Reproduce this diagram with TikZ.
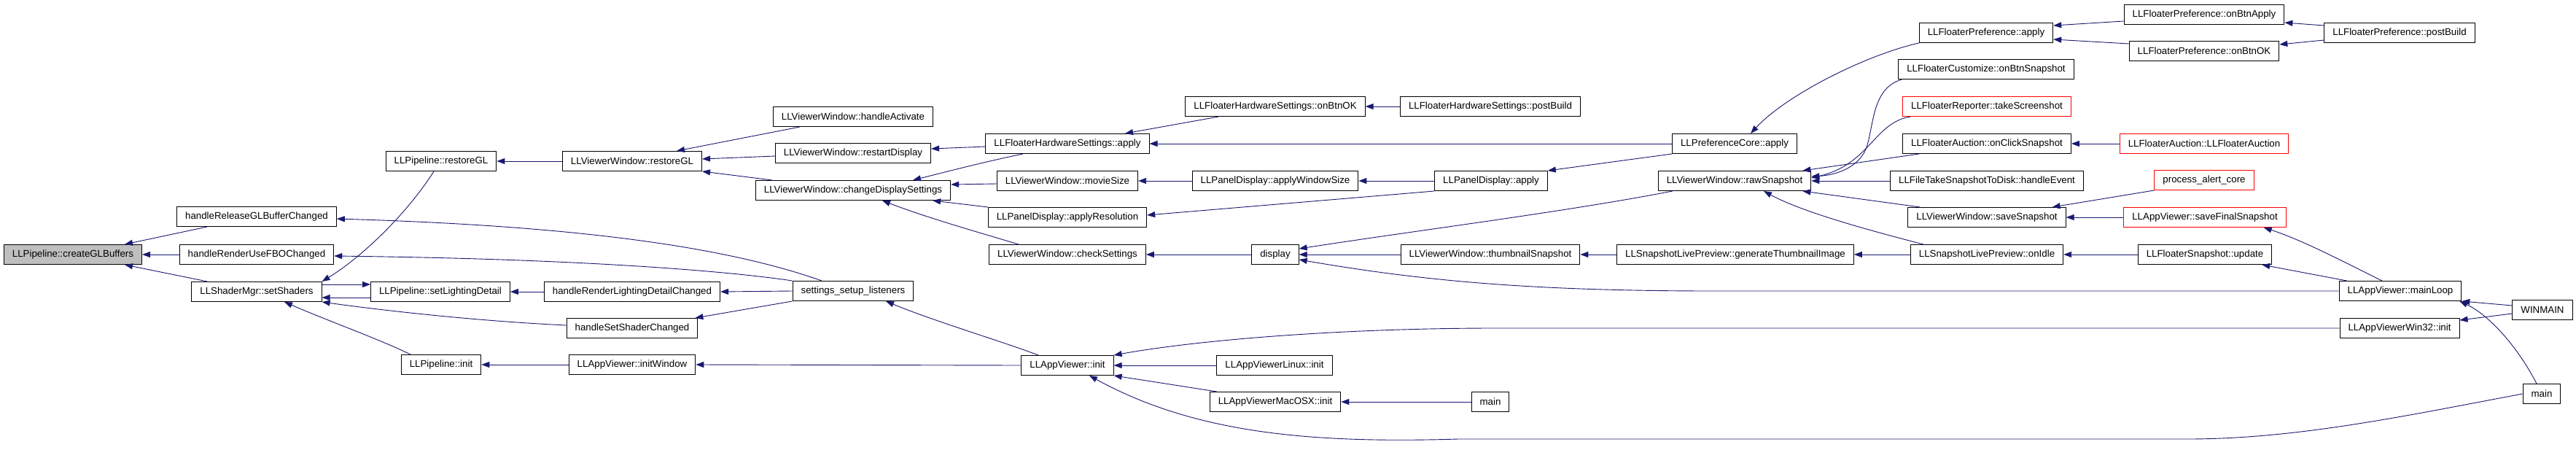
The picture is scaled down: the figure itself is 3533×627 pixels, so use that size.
\documentclass[tikz,border=0pt]{standalone}
\usepackage{fontspec}
\setmainfont{Liberation Sans}
\usetikzlibrary{arrows.meta}
\definecolor{edgeblue}{HTML}{191970}
\definecolor{nodegray}{HTML}{BFBFBF}
\begin{document}
\begin{tikzpicture}[x=1pt,y=-1pt,
   fn/.style={draw=black,line width=1pt,minimum height=27pt,inner xsep=11.5pt,inner ysep=0pt,font=\fontsize{13.3}{16}\selectfont},
   trunc/.style={fn,draw=red},
   call/.style={-{Triangle[length=11pt,width=8pt]},draw=edgeblue,line width=0.9pt}]
   \fill[white] (0,0) rectangle (3533,627);
   \useasboundingbox (0,0) rectangle (3533,627);
   \node[fn,fill=nodegray] (cgl) at (100,349) {LLPipeline::createGLBuffers};
   \node[fn] (hrel) at (352,297) {handleReleaseGLBufferChanged};
   \node[fn] (hfbo) at (352,349) {handleRenderUseFBOChanged};
   \node[fn] (shmgr) at (352,400) {LLShaderMgr::setShaders};
   \node[fn] (prgl) at (605,221) {LLPipeline::restoreGL};
   \node[fn] (psld) at (604,400) {LLPipeline::setLightingDetail};
   \node[fn] (pini) at (605,500) {LLPipeline::init};
   \node[fn] (vrgl) at (867,221) {LLViewerWindow::restoreGL};
   \node[fn] (hrld) at (867,400) {handleRenderLightingDetailChanged};
   \node[fn] (hssc) at (867,450) {handleSetShaderChanged};
   \node[fn] (ainw) at (867,500) {LLAppViewer::initWindow};
   \node[fn] (ssl) at (1170,399) {settings\_setup\_listeners};
   \node[fn] (vhac) at (1170,160) {LLViewerWindow::handleActivate};
   \node[fn] (vrsd) at (1170,210) {LLViewerWindow::restartDisplay};
   \node[fn] (vcds) at (1170,261) {LLViewerWindow::changeDisplaySettings};
   \node[fn] (fhapply) at (1464,197) {LLFloaterHardwareSettings::apply};
   \node[fn] (vmov) at (1464,248) {LLViewerWindow::movieSize};
   \node[fn] (pdres) at (1464,298) {LLPanelDisplay::applyResolution};
   \node[fn] (vchk) at (1464,349) {LLViewerWindow::checkSettings};
   \node[fn] (ainit) at (1464,501) {LLAppViewer::init};
   \node[fn] (fhok) at (1749,146) {LLFloaterHardwareSettings::onBtnOK};
   \node[fn] (pdws) at (1749,248) {LLPanelDisplay::applyWindowSize};
   \node[fn] (disp) at (1749,349) {display};
   \node[fn] (alin) at (1748,501) {LLAppViewerLinux::init};
   \node[fn] (amac) at (1749,551) {LLAppViewerMacOSX::init};
   \node[fn] (fhpb) at (2044,146) {LLFloaterHardwareSettings::postBuild};
   \node[fn] (pdapply) at (2045,248) {LLPanelDisplay::apply};
   \node[fn] (vthumb) at (2044,349) {LLViewerWindow::thumbnailSnapshot};
   \node[fn] (mainA) at (2044,551) {main};
   \node[fn] (prefcore) at (2379,197) {LLPreferenceCore::apply};
   \node[fn] (vraw) at (2379,248) {LLViewerWindow::rawSnapshot};
   \node[fn] (gti) at (2380,349) {LLSnapshotLivePreview::generateThumbnailImage};
   \node[fn] (fpapply) at (2724,45) {LLFloaterPreference::apply};
   \node[fn] (fcust) at (2724,95) {LLFloaterCustomize::onBtnSnapshot};
   \node[trunc] (frep) at (2725,146) {LLFloaterReporter::takeScreenshot};
   \node[fn] (faclick) at (2725,197) {LLFloaterAuction::onClickSnapshot};
   \node[fn] (fts) at (2725,248) {LLFileTakeSnapshotToDisk::handleEvent};
   \node[fn] (vsave) at (2725,298) {LLViewerWindow::saveSnapshot};
   \node[fn] (sidle) at (2725,349) {LLSnapshotLivePreview::onIdle};
   \node[fn] (fpapl) at (3023,20) {LLFloaterPreference::onBtnApply};
   \node[fn] (fpok) at (3023,70) {LLFloaterPreference::onBtnOK};
   \node[fn] (fppb) at (3291,45) {LLFloaterPreference::postBuild};
   \node[trunc] (fauc) at (3023,197) {LLFloaterAuction::LLFloaterAuction};
   \node[trunc] (pac) at (3023,247) {process\_alert\_core};
   \node[trunc] (asfs) at (3024,298) {LLAppViewer::saveFinalSnapshot};
   \node[fn] (fsupd) at (3024,349) {LLFloaterSnapshot::update};
   \node[fn] (aml) at (3292,399) {LLAppViewer::mainLoop};
   \node[fn] (awin) at (3291,450) {LLAppViewerWin32::init};
   \node[fn] (winm) at (3487,425) {WINMAIN};
   \node[fn] (mainB) at (3486,540) {main};
   \draw[call] ([xshift=42pt]hrel.south west) -- ([xshift=-24pt]cgl.north east);
   \draw[call] (hfbo.west) -- (cgl.east);
   \draw[call] ([xshift=22pt]shmgr.north west) -- ([xshift=-24pt]cgl.south east);
   \draw[call] ([xshift=-43pt]ssl.north) .. controls (1000,340) and (800,310) .. ([yshift=-3pt]hrel.east);
   \draw[call] (ssl.north west) .. controls (1000,372) and (800,355) .. ([yshift=-2pt]hfbo.east);
   \draw[call] ([xshift=-10pt]prgl.south) .. controls (560,290) and (500,350) .. (shmgr.north east);
   \draw[call] ([yshift=10pt]shmgr.east) -- ([yshift=10pt]psld.west);
   \draw[call] ([yshift=-8pt]psld.west) -- ([yshift=-8pt]shmgr.east);
   \draw[call] ([yshift=4pt]hssc.west) .. controls (650,440) and (520,425) .. (shmgr.south east);
   \draw[call] ([xshift=-42pt]pini.north) .. controls (520,465) and (450,440) .. ([xshift=38pt]shmgr.south);
   \draw[call] (vrgl.west) -- (prgl.east);
   \draw[call] (hrld.west) -- (psld.east);
   \draw[call] (ssl.west) -- (hrld.east);
   \draw[call] (ssl.south west) -- ([xshift=-4pt]hssc.north east);
   \draw[call] (ainw.west) -- (pini.east);
   \draw[call] (ainit.west) -- (ainw.east);
   \draw[call] ([xshift=-40pt]ainit.north) .. controls (1380,470) and (1280,440) .. ([xshift=45pt]ssl.south);
   \draw[call] ([xshift=37pt]vhac.south west) -- ([xshift=61pt]vrgl.north);
   \draw[call] ([yshift=-4pt]vrsd.west) -- ([yshift=3pt]vrgl.east);
   \draw[call] ([xshift=23pt]vcds.north west) -- (vrgl.south east);
   \draw[call] ([yshift=-4pt]fhapply.west) -- ([yshift=6pt]vrsd.east);
   \draw[call] ([xshift=-61pt]fhapply.south) .. controls (1350,222) and (1300,235) .. ([xshift=82pt]vcds.north);
   \draw[call] ([yshift=-4pt]vmov.west) -- ([yshift=8pt]vcds.east);
   \draw[call] (pdres.north west) -- ([xshift=-25pt]vcds.south east);
   \draw[call] ([xshift=-67pt]vchk.north) .. controls (1340,318) and (1270,298) .. ([xshift=40pt]vcds.south);
   \draw[call] ([xshift=46pt]fhok.south west) -- ([xshift=79pt]fhapply.north);
   \draw[call] (prefcore.west) -- (fhapply.east);
   \draw[call] (pdws.west) -- (vmov.east);
   \draw[call] (pdapply.west) -- (pdws.east);
   \draw[call] (pdapply.south west) -- ([yshift=3pt]pdres.east);
   \draw[call] (disp.west) -- (vchk.east);
   \draw[call] (fhpb.west) -- (fhok.east);
   \draw[call] (prefcore.south west) -- (pdapply.north east);
   \draw[call] ([xshift=20pt]vraw.south west) .. controls (2150,290) and (1950,315) .. ([yshift=8pt]disp.east);
   \draw[call] (vthumb.west) -- (disp.east);
   \draw[call] (aml.west) -- (2350,399) .. controls (2100,399) and (1950,385) .. ([yshift=-7pt]disp.east);
   \draw[call] (gti.west) -- (vthumb.east);
   \draw[call] (alin.west) -- (ainit.east);
   \draw[call] ([xshift=10pt]amac.north west) -- (ainit.south east);
   \draw[call] (mainA.west) -- (amac.east);
   \draw[call] (awin.west) -- (2050,450) .. controls (1850,450) and (1650,465) .. (ainit.north east);
   \draw[call] (mainB.west) .. controls (3300,570) and (3150,602) .. (3000,602) -- (2000,602) .. controls (1800,608) and (1640,595) .. ([xshift=30pt]ainit.south);
   \draw[call] (fpapply.south west) .. controls (2560,75) and (2450,130) .. ([xshift=22pt]prefcore.north);
   \draw[call] ([xshift=5pt]fcust.south west) .. controls (2570,120) and (2570,165) .. (2562,195) .. controls (2555,228) and (2520,240) .. ([yshift=6pt]vraw.east);
   \draw[call] ([xshift=11pt]frep.south west) .. controls (2570,168) and (2565,225) .. ([yshift=4pt]vraw.east);
   \draw[call] ([xshift=23pt]faclick.south west) -- ([xshift=-12pt]vraw.north east);
   \draw[call] (fts.west) -- (vraw.east);
   \draw[call] ([xshift=17pt]vsave.north west) -- ([xshift=-12pt]vraw.south east);
   \draw[call] ([xshift=18pt]sidle.north west) .. controls (2560,315) and (2470,290) .. ([xshift=40pt]vraw.south);
   \draw[call] (sidle.west) -- (gti.east);
   \draw[call] ([yshift=-9pt]fpapl.west) -- ([yshift=10pt]fpapply.east);
   \draw[call] ([yshift=10pt]fpok.west) -- ([yshift=-9pt]fpapply.east);
   \draw[call] (fauc.west) -- (faclick.east);
   \draw[call] (pac.south west) -- ([xshift=-19pt]vsave.north east);
   \draw[call] (asfs.west) -- (vsave.east);
   \draw[call] (fsupd.west) -- (sidle.east);
   \draw[call] ([yshift=10pt]fppb.west) -- ([yshift=-11pt]fpapl.east);
   \draw[call] ([yshift=-10pt]fppb.west) -- ([yshift=9pt]fpok.east);
   \draw[call] ([xshift=-25pt]aml.north) .. controls (3220,362) and (3160,330) .. ([xshift=-31pt]asfs.south east);
   \draw[call] ([xshift=11pt]aml.north west) -- ([xshift=-14pt]fsupd.south east);
   \draw[call] ([yshift=6pt]winm.west) -- (aml.south east);
   \draw[call] ([yshift=-5pt]winm.west) -- ([yshift=11pt]awin.east);
   \draw[call] ([xshift=-7pt]mainB.north) .. controls (3450,470) and (3410,430) .. ([xshift=-3pt]aml.south east);
\end{tikzpicture}
\end{document}
